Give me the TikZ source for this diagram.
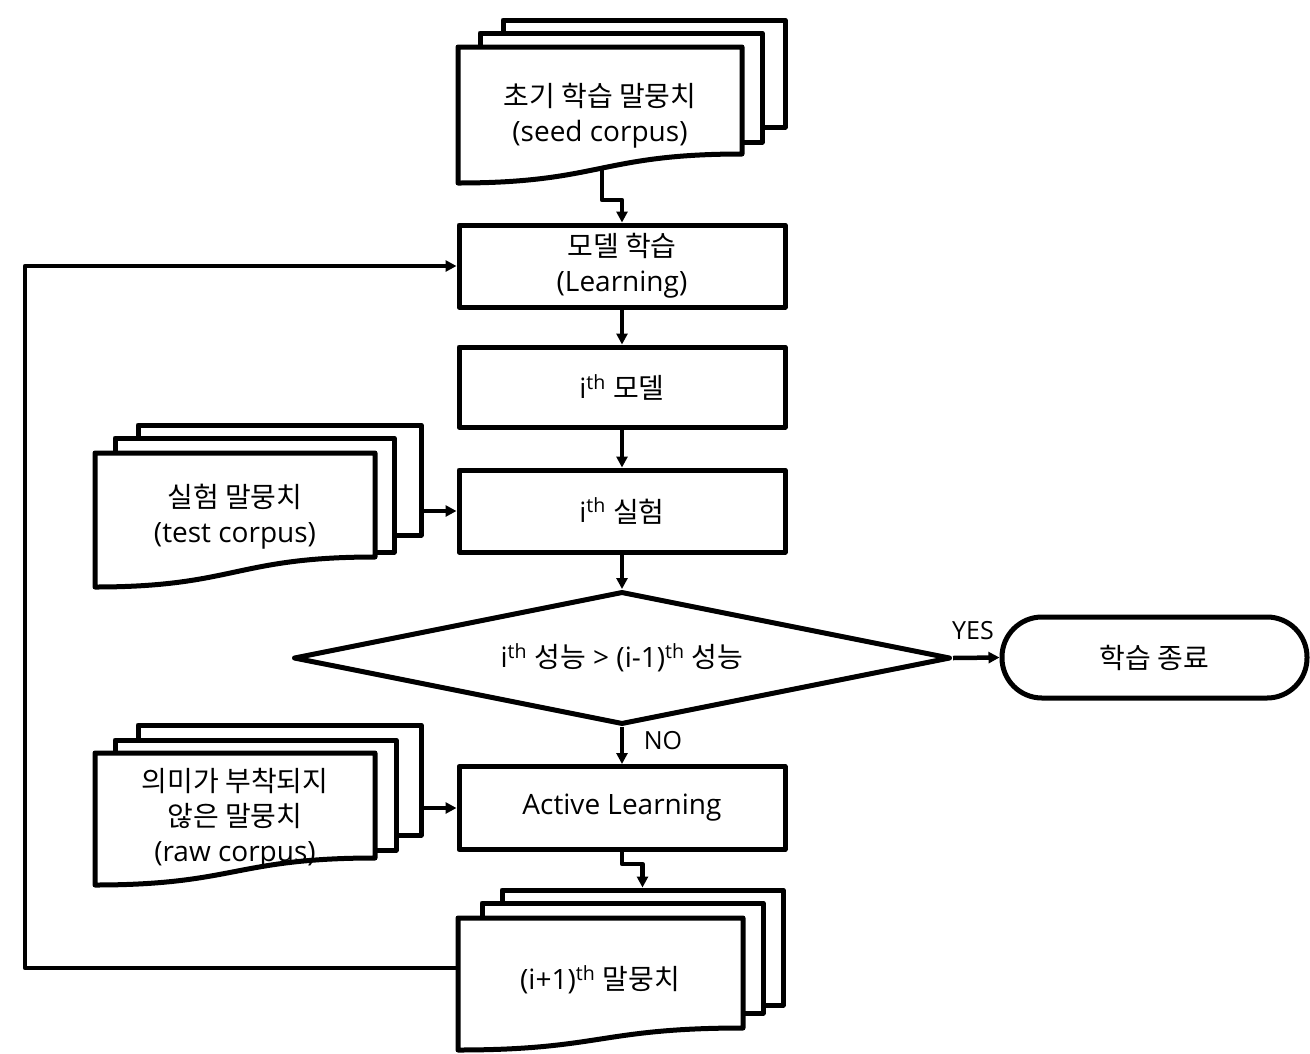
\documentclass[tikz,border=0pt]{standalone}
\usepackage{fontspec}
\setmainfont{Open Sans}
\newfontfamily\kr{Noto Sans CJK KR}
\usetikzlibrary{arrows.meta,shapes.geometric}
\newcommand\sheetrect[5]{\node[sheet, minimum width={(#4)-(#2)}, minimum height={(#5)-(#3)}] (#1) at ({((#2)+(#4))/2},{((#3)+(#5))/2}) {};}
\newcommand\frontdoc[5]{\draw[fill=white] (#1,#2) -- (#3,#2) -- (#3,#5) .. controls ({((#1)+(#3))/2},#5) and ({((#1)+(#3))/2},#4) .. (#1,#4) -- cycle;}
\begin{document}
\begin{tikzpicture}[x=1pt,y=-1pt, line width=5pt, line join=round,
  box/.style={draw, fill=white, rectangle, minimum width=326, inner sep=0, font=\fontsize{28}{35}\selectfont, align=center},
  lbl/.style={font=\fontsize{28}{35}\selectfont, align=center, inner sep=0},
  yn/.style={font=\fontsize{25}{30}\selectfont, inner sep=0},
  sheet/.style={draw, fill=white, rectangle, inner sep=0},
  arr/.style={-{Triangle[length=11pt,width=11pt]}, line width=4.5pt},
]
\fill[white] (0,0) rectangle (1310,1053);
\useasboundingbox (0,0) rectangle (1310,1053);

% seed corpus stack
\sheetrect{seedc}{503}{20}{785}{127}
\sheetrect{seedb}{480}{33}{762}{142}
\frontdoc{458}{47}{742}{183}{154}
\node[lbl] (seed) at (600,116) {{\kr 초기 학습 말뭉치}\\(seed corpus)};
\coordinate (seedout) at (602,168);

% main boxes
\node[box, minimum height=82] (learn) at (622,266) {{\kr 모델 학습}\\(Learning)};
\node[box, minimum height=80] (model) at (622,387) {i\textsuperscript{th} {\kr 모델}};
\node[box, minimum height=82] (exp) at (622,511) {i\textsuperscript{th} {\kr 실험}};
\node[draw, fill=white, diamond, aspect=4.9, minimum width=657, minimum height=133, inner sep=0, font=\fontsize{28}{35}\selectfont] (dec) at (622,658) {i\textsuperscript{th} {\kr 성능} > (i-1)\textsuperscript{th} {\kr 성능}};
\node[draw, fill=white, rectangle, rounded corners=40pt, minimum width=305, minimum height=81, inner sep=0, font=\fontsize{28}{35}\selectfont] (stop) at (1154.5,657.5) {\kr 학습 종료};
\node[box, minimum height=83] (al) at (622,808) {Active Learning};

% test corpus stack
\sheetrect{testc}{138}{425}{421}{535}
\sheetrect{testb}{115}{438}{394}{552}
\frontdoc{95}{453}{375}{587}{557}
\node[lbl] (test) at (235,517) {{\kr 실험 말뭉치}\\(test corpus)};

% raw corpus stack
\sheetrect{rawc}{138}{725}{421}{835}
\sheetrect{rawb}{115}{740}{396}{850}
\frontdoc{95}{753}{375}{885}{858}
\node[lbl] (raw) at (235,818) {{\kr 의미가 부착되지}\\{\kr 않은 말뭉치}\\(raw corpus)};

% next corpus stack
\sheetrect{nextc}{502}{890}{783}{1005}
\sheetrect{nextb}{482}{903}{763}{1013}
\frontdoc{458}{918}{743}{1050}{1028}
\node[lbl] (next) at (600,980) {(i+1)\textsuperscript{th} {\kr 말뭉치}};
\coordinate (fbout) at (458,968);

% labels
\node[yn] (yes) at (973,631) {YES};
\node[yn] (no) at (663,741) {NO};

% connectors
\draw[arr] (seedout) -- ++(0,32) -| (learn.north);
\draw[arr] (learn) -- (model);
\draw[arr] (model) -- (exp);
\draw[arr] (exp.south) -- (dec.north);
\draw[arr] (testc.east |- exp.west) -- (exp.west);
\draw[arr] (dec.east) -- (stop.west);
\draw[arr] (dec.south) -- (al.north);
\draw[arr] (rawc.east |- al.west) -- (al.west);
\draw[arr] (al.south) -- ++(0,12) -| (nextc.north);
\draw[arr] (fbout) -- ++(-433,0) |- (learn.west);
\end{tikzpicture}
\end{document}
